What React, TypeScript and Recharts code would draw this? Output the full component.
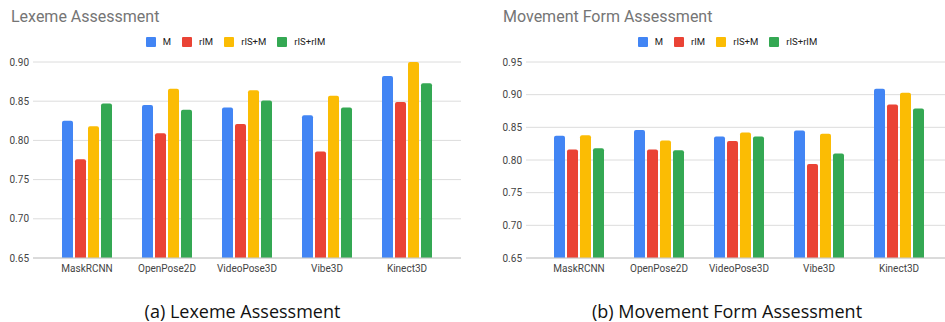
import React from "react";
import { BarChart, Bar, XAxis, YAxis, CartesianGrid, Legend } from "recharts";

const categories = ["MaskRCNN", "OpenPose2D", "VideoPose3D", "Vibe3D", "Kinect3D"];
const seriesNames = ["M", "rIM", "rIS+M", "rIS+rIM"];
const seriesColors = ["#4285F4", "#EA4335", "#FBBC04", "#34A853"];

const lexM = [0.825, 0.845, 0.842, 0.832, 0.882];
const lexRIM = [0.776, 0.809, 0.821, 0.786, 0.849];
const lexRISM = [0.818, 0.866, 0.864, 0.857, 0.9];
const lexRISRIM = [0.847, 0.839, 0.851, 0.842, 0.873];

const movM = [0.837, 0.846, 0.836, 0.845, 0.909];
const movRIM = [0.816, 0.816, 0.829, 0.794, 0.885];
const movRISM = [0.838, 0.83, 0.842, 0.84, 0.903];
const movRISRIM = [0.818, 0.815, 0.836, 0.81, 0.879];

const lexTicks = [0.65, 0.7, 0.75, 0.8, 0.85, 0.9];
const movTicks = [0.65, 0.7, 0.75, 0.8, 0.85, 0.9, 0.95];

const buildRows = (a: number[], b: number[], c: number[], d: number[]) =>
  categories.map((name, i) => ({
    name,
    [seriesNames[0]]: a[i],
    [seriesNames[1]]: b[i],
    [seriesNames[2]]: c[i],
    [seriesNames[3]]: d[i],
  }));

const lexData = buildRows(lexM, lexRIM, lexRISM, lexRISRIM);
const movData = buildRows(movM, movRIM, movRISM, movRISRIM);

const LegendContent = (props: any) => {
  const payload = props.payload || [];
  return (
    <div
      style={{
        display: "flex",
        justifyContent: "center",
        alignItems: "center",
        fontFamily: "Roboto",
        fontSize: 9.5,
        color: "#222",
      }}
    >
      {payload.map((p: any, i: number) => (
        <div key={i} style={{ display: "flex", alignItems: "center", marginRight: i < payload.length - 1 ? 11 : 0 }}>
          <div style={{ width: 10, height: 10, background: p.color, borderRadius: 1, marginRight: 7 }} />
          <span>{p.value}</span>
        </div>
      ))}
    </div>
  );
};

const tickStyle = { fontFamily: "Roboto", fontSize: 10, fill: "#444" };

function Panel(props: {
  data: any[];
  width: number;
  ticks: number[];
  yWidth: number;
  padL: number;
  padR: number;
  marginRight: number;
  legendShift: number;
}) {
  const { data, width, ticks, yWidth, padL, padR, marginRight, legendShift } = props;
  return (
    <BarChart
      width={width}
      height={280}
      data={data}
      margin={{ top: 62, right: marginRight, left: 0, bottom: 5 }}
      barGap={2}
      barSize={11}
    >
      <CartesianGrid horizontal vertical={false} stroke="#dcdcdc" />
      <XAxis
        dataKey="name"
        height={17}
        tickLine={false}
        tickSize={0}
        tickMargin={7}
        axisLine={{ stroke: "#c8c8c8" }}
        tick={tickStyle}
        padding={{ left: padL, right: padR }}
        interval={0}
      />
      <YAxis
        width={yWidth}
        domain={[ticks[0], ticks[ticks.length - 1]]}
        ticks={ticks}
        allowDataOverflow
        axisLine={false}
        tickLine={false}
        tickSize={0}
        tickMargin={4}
        tick={tickStyle}
        tickFormatter={(v: number) => v.toFixed(2)}
      />
      <Legend
        verticalAlign="middle"
        layout="horizontal"
        wrapperStyle={{ top: 36, left: legendShift, width: width, height: 12 }}
        content={<LegendContent />}
      />
      {seriesNames.map((s, i) => (
        <Bar key={s} dataKey={s} fill={seriesColors[i]} radius={[2, 2, 0, 0]} isAnimationActive={false} />
      ))}
    </BarChart>
  );
}

export default function App() {
  return (
    <div style={{ position: "absolute", left: 0, top: 0, width: 945, height: 322, background: "#fff", overflow: "hidden" }}>
      <div style={{ position: "absolute", left: 0, top: 0 }}>
        <Panel data={lexData} width={465} ticks={lexTicks} yWidth={33} padL={14} padR={14} marginRight={4} legendShift={3} />
      </div>
      <div style={{ position: "absolute", left: 470, top: 0 }}>
        <Panel data={movData} width={475} ticks={movTicks} yWidth={56} padL={13} padR={6} marginRight={0} legendShift={20} />
      </div>
      <div style={{ position: "absolute", left: 11, top: 5, fontFamily: "Roboto", fontSize: 16, color: "#757575", lineHeight: "24px" }}>
        Lexeme Assessment
      </div>
      <div style={{ position: "absolute", left: 503, top: 5, fontFamily: "Roboto", fontSize: 16, color: "#757575", lineHeight: "24px" }}>
        Movement Form Assessment
      </div>
      <div style={{ position: "absolute", left: 0, width: 485, top: 299, textAlign: "center", fontFamily: "Open Sans", fontSize: 18, color: "#111", lineHeight: "24px" }}>
        (a) Lexeme Assessment
      </div>
      <div style={{ position: "absolute", left: 470, width: 514, top: 299, textAlign: "center", fontFamily: "Open Sans", fontSize: 18, color: "#111", lineHeight: "24px" }}>
        (b) Movement Form Assessment
      </div>
    </div>
  );
}
